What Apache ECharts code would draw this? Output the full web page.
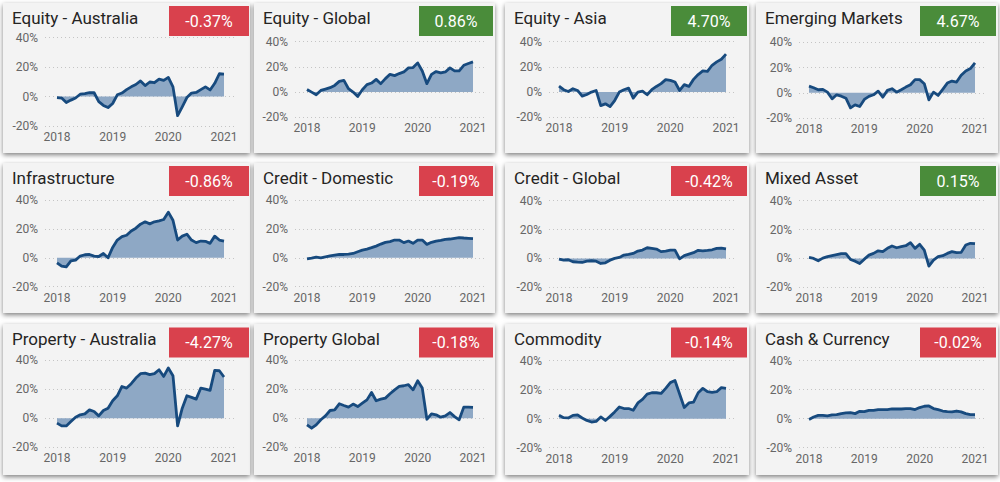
<!DOCTYPE html>
<html>
<head>
<meta charset="utf-8">
<title>Asset class performance</title>
<script src="https://cdn.jsdelivr.net/npm/echarts@6/dist/echarts.min.js"></script>
<style>
  html, body { margin: 0; padding: 0; background: #ffffff; }
  #chart { width: 1000px; height: 482px; }
</style>
</head>
<body>
<div id="chart"></div>
<script>
// tick labels on the x axis (placed on the January of each year, month index 0/12/24/36)
const yearTicks = ["2018", "2019", "2020", "2021"];
const yearTickMonths = [0, 12, 24, 36];

const titles = [
  "Equity - Australia", "Equity - Global", "Equity - Asia", "Emerging Markets",
  "Infrastructure", "Credit - Domestic", "Credit - Global", "Mixed Asset",
  "Property - Australia", "Property Global", "Commodity", "Cash & Currency"
];
const changes = [
  "-0.37%", "0.86%", "4.70%", "4.67%",
  "-0.86%", "-0.19%", "-0.42%", "0.15%",
  "-4.27%", "-0.18%", "-0.14%", "-0.02%"
];

// cumulative return (%), monthly Jan 2018 .. Jan 2021
const equityAustralia = [-0.7, -1, -4, -2.4, -1, 1.6, 2, 2.6, 2.6, -3.5, -6, -7.5, -4.7, 1.2, 2.4, 4.7, 6.6, 8.2, 10.6, 7.5, 9.9, 9.4, 11.8, 11, 13, 6.6, -13, -7, -0.7, 2.4, 2.8, 4.7, 6.6, 4.5, 9, 15.5, 15.3];
const equityGlobal = [2.1, 0, -2.1, 1.3, 2.4, 3.5, 5.3, 8.5, 9.3, 2.7, 0, -3.5, 1.9, 5.9, 7.2, 10.1, 6.7, 10.7, 14.1, 13.1, 14.7, 16, 19.2, 19.5, 23.2, 16.8, 6.7, 14.1, 16.3, 15.2, 16, 19.2, 16.8, 16.8, 21.3, 22.7, 24];
const equityAsia = [4.8, 1.9, 0.5, 2.7, 1.3, -3.2, -1.9, 0, 1.3, -10.7, -9.3, -11.5, -6.7, 0, 1.9, 3.2, -4.8, 0, 0.8, -2.1, 1.9, 4.5, 6.7, 9.9, 9.3, 8, 1.3, 5.9, 4.5, 10.1, 13.9, 16.8, 16.5, 21.3, 24, 26.1, 30.1];
const emergingMarkets = [5.3, 4, 2.4, 2.7, 0.5, -4.8, -1.6, -2.7, -4.3, -12, -9.6, -10.9, -5.3, -2.9, -1.6, 1.3, -3.5, 1.9, 3.2, 0.5, 2.4, 4.5, 6.4, 10.4, 10.4, 7.2, -5.6, 0.5, -2.1, 2.7, 7.7, 9.3, 8.5, 13.9, 17.3, 19.2, 23.7];
const infrastructure = [-3.5, -5.8, -6.3, -2.1, -1.6, 1.2, 2.1, 2.3, 1.2, 0.9, 3, 0, 7.2, 12.3, 14.7, 15.6, 18.6, 20.5, 23.3, 24.9, 23.5, 24.9, 25.6, 26.5, 31.6, 26, 12.3, 15, 16.3, 12.3, 10.5, 11.6, 11.4, 10, 15, 12.3, 11.6];
const creditDomestic = [-0.7, -0.2, 0.5, 0, 0.7, 1.4, 1.9, 2.3, 2.3, 2.6, 3, 4.2, 5.3, 6, 7, 8.1, 9.5, 10.7, 11.2, 12.3, 12.3, 10.5, 11.6, 10, 12.3, 12.3, 9.3, 10.7, 11.6, 12.1, 12.8, 13, 13.5, 14, 13.7, 13.5, 13.3];
const creditGlobal = [-0.5, -1.2, -0.9, -2.3, -2.6, -2.8, -1.9, -1.6, -1.9, -3.5, -3, -1.2, 0, 0.7, 2.3, 2.8, 3.5, 5.1, 5.8, 7.4, 7, 6.5, 4.7, 5.1, 5.8, 5.8, -0.3, 1.9, 3, 4, 5.6, 5.3, 5.6, 6, 7, 7.2, 6.7];
const mixedAsset = [0.7, 0, -1.6, 0.2, 1.2, 1.9, 2.6, 3.3, 3.3, -0.7, -1.9, -3.5, -0.5, 2.3, 3.5, 5.3, 4.7, 7, 8.6, 7.4, 8.1, 8.8, 10.9, 7, 9.8, 5.8, -5.3, -1.2, 1.2, 1.9, 3.5, 4.7, 4, 4.2, 9.3, 10.5, 10.2];
const propertyAustralia = [-3.4, -5.3, -5.3, -2.3, 0.7, 2.3, 3, 5.7, 4.6, 1.6, 5.3, 6.9, 12, 15.4, 21.8, 20.7, 23.7, 27.6, 30.6, 31, 29.9, 30.6, 33.3, 28.7, 34.5, 29.2, -5.3, 6.9, 15.4, 14.3, 13.1, 20.7, 20, 19.1, 32.9, 32.6, 28.3];
const propertyGlobal = [-4.6, -6.9, -4.6, -1.1, 1.6, 5.3, 5.7, 9.9, 8.7, 7.6, 9.7, 8, 10.3, 12.6, 17.7, 12, 13.1, 13.8, 16.8, 19.5, 21.8, 22.3, 23, 19.5, 25.7, 20.7, -0.7, 3, 2.3, 0.7, 1.6, 3.9, 1.1, -1.1, 7.6, 7.6, 7.4];
const commodity = [2.3, 0.7, 0.5, 2.3, 2.6, 0.5, -1.2, -2.3, -1.9, 1.2, -1.2, 1.6, 4.7, 8.1, 7, 7, 5.8, 10.9, 13.3, 17, 17.9, 17.9, 17.4, 20.9, 24.9, 26.3, 17, 7.7, 10.9, 11.4, 17.9, 20.9, 18.6, 18.1, 18.6, 21.4, 20.9];
const cashCurrency = [-0.5, 1.2, 2.3, 2.3, 1.9, 2.6, 2.8, 3.5, 4, 4.2, 3.5, 5.1, 4.9, 5.8, 5.8, 6.3, 6.3, 6.3, 6.7, 6.7, 6.7, 7, 7, 6.3, 7.7, 8.6, 8.8, 7, 6.3, 5.3, 4.9, 4.7, 5.3, 4.7, 3.5, 2.8, 2.8];

const seriesValues = [
  equityAustralia, equityGlobal, equityAsia, emergingMarkets,
  infrastructure, creditDomestic, creditGlobal, mixedAsset,
  propertyAustralia, propertyGlobal, commodity, cashCurrency
];

// layout (pixels)
const panelLeft = [3, 254, 505, 756];
const panelRight = [250, 495, 749, 998];
const panelTop = [3, 163, 324];
const panelHeight = [150, 150, 151];
const gridLeft = [45, 295, 549, 799];
const gridRight = [235, 485, 736, 986];
const dataStart = [57, 307, 559, 809];
const dataEnd = [224, 473, 726, 975];
const badgeX = [169, 419, 671, 920];
const badgeW = [80, 74, 76, 76];
const badgeTop = [6, 166, 327.5];
const titleY = [18, 178, 339];
// y of the 40% line and the -20% line per panel
const plotTop = [37.7, 41.7, 41.7, 42.3, 200, 200, 200.7, 200.7, 360, 360, 360.7, 360.7];
const plotBottom = [126, 117.3, 117.3, 118, 286.7, 286.7, 287.3, 287.3, 447.3, 447.3, 447.7, 447.7];

const FONT = "Roboto";
const grids = [], xAxes = [], yAxes = [], series = [], graphics = [];

titles.forEach((name, i) => {
  const c = i % 4, r = Math.floor(i / 4);
  const perMonth = (dataEnd[c] - dataStart[c]) / 36;

  graphics.push({
    type: "rect",
    z: -10,
    shape: { x: panelLeft[c], y: panelTop[r], width: panelRight[c] - panelLeft[c], height: panelHeight[r] },
    style: { fill: "#f3f3f3", shadowBlur: 5, shadowOffsetY: 2, shadowColor: "rgba(0,0,0,0.5)" }
  });
  graphics.push({
    type: "text",
    z: 10,
    x: panelLeft[c] + 9,
    y: titleY[r],
    style: { text: name, fill: "#252423", font: "17px " + FONT, verticalAlign: "middle" }
  });
  const positive = parseFloat(changes[i]) >= 0;
  graphics.push({
    type: "rect",
    z: 10,
    shape: { x: badgeX[c], y: badgeTop[r], width: badgeW[c], height: 30 },
    style: { fill: positive ? "#4a8c3a" : "#d9414d" }
  });
  graphics.push({
    type: "text",
    z: 11,
    x: badgeX[c] + badgeW[c] / 2,
    y: badgeTop[r] + 15,
    style: { text: changes[i], fill: "#ffffff", font: "16px " + FONT, align: "center", verticalAlign: "middle" }
  });

  grids.push({
    left: gridLeft[c],
    width: gridRight[c] - gridLeft[c],
    top: plotTop[i],
    height: plotBottom[i] - plotTop[i]
  });
  xAxes.push({
    type: "value",
    gridIndex: i,
    min: -(dataStart[c] - gridLeft[c]) / perMonth,
    max: 36 + (gridRight[c] - dataEnd[c]) / perMonth,
    axisLine: { show: false },
    axisTick: { show: false },
    splitLine: { show: false },
    axisLabel: {
      customValues: yearTickMonths,
      formatter: (v) => yearTicks[yearTickMonths.indexOf(v)],
      color: "#666666",
      fontFamily: FONT,
      fontSize: 12,
      margin: 5
    }
  });
  yAxes.push({
    type: "value",
    gridIndex: i,
    min: -20,
    max: 40,
    interval: 20,
    axisLine: { show: false },
    axisTick: { show: false },
    axisLabel: { formatter: "{value}%", color: "#666666", fontFamily: FONT, fontSize: 12, margin: 7 },
    splitLine: { lineStyle: { color: "#c4c4c4", type: [1, 3], width: 1 } }
  });
  series.push({
    name: name,
    type: "line",
    xAxisIndex: i,
    yAxisIndex: i,
    data: seriesValues[i].map((v, m) => [m, v]),
    symbol: "none",
    smooth: false,
    lineStyle: { color: "#174a7e", width: 2.8, join: "round" },
    areaStyle: { color: "#8ea8c5", opacity: 1 },
    animation: false
  });
});

const chart = echarts.init(document.getElementById("chart"), null, { renderer: "svg" });
chart.setOption({
  backgroundColor: "#ffffff",
  animation: false,
  graphic: graphics,
  grid: grids,
  xAxis: xAxes,
  yAxis: yAxes,
  series: series
});
</script>
</body>
</html>
